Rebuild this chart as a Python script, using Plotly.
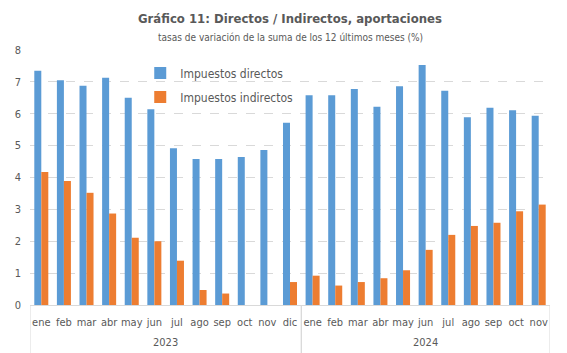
import plotly.graph_objects as go

years = ["2023"] * 12 + ["2024"] * 11
months = ["ene", "feb", "mar", "abr", "may", "jun", "jul", "ago", "sep", "oct", "nov", "dic",
          "ene", "feb", "mar", "abr", "may", "jun", "jul", "ago", "sep", "oct", "nov"]
directos = [7.35, 7.05, 6.88, 7.13, 6.5, 6.14, 4.92, 4.58, 4.58, 4.64, 4.86, 5.72,
            6.58, 6.58, 6.78, 6.22, 6.86, 7.53, 6.72, 5.89, 6.19, 6.11, 5.94]
indirectos = [4.17, 3.89, 3.52, 2.87, 2.11, 2.0, 1.39, 0.47, 0.36, None, None, 0.72,
              0.92, 0.61, 0.72, 0.84, 1.09, 1.73, 2.2, 2.48, 2.58, 2.94, 3.15]

FONT = "Liberation Sans Narrow, DejaVu Sans Condensed, Liberation Sans, sans-serif"
GRAY = "#595959"
LINE = "#D9D9D9"

cats = [f"{y}-{m}" for y, m in zip(years, months)]

fig = go.Figure()
fig.add_trace(go.Bar(x=cats, y=directos, name="Impuestos directos",
                     marker=dict(color="#5B9BD5", line=dict(width=0)), legend="legend"))
fig.add_trace(go.Bar(x=cats, y=indirectos, name="Impuestos indirectos",
                     marker=dict(color="#ED7D31", line=dict(width=0)), legend="legend2"))

leg_common = dict(xanchor="left", yanchor="middle", bgcolor="rgba(0,0,0,0)",
                  font=dict(size=12, color=GRAY), itemwidth=30)

# year group labels and dividers derived from the data
groups = []
for i, y in enumerate(years):
    if not groups or groups[-1][0] != y:
        groups.append([y, i, i])
    else:
        groups[-1][2] = i

annotations = [
    dict(text="<b>Gráfico 11: Directos / Indirectos, aportaciones</b>", x=0.5, y=1,
         xref="paper", yref="paper", yshift=32, showarrow=False,
         xanchor="center", yanchor="middle", font=dict(size=13, color=GRAY, family=FONT)),
    dict(text="tasas de variación de la suma de los 12 últimos meses (%)", x=0.5, y=1,
         xref="paper", yref="paper", yshift=13, showarrow=False,
         xanchor="center", yanchor="middle", font=dict(size=10, color=GRAY, family=FONT)),
]
shapes = []
for y, a, b in groups:
    annotations.append(dict(text=y, x=(a + b) / 2, xref="x", y=-0.149, yref="paper",
                            showarrow=False, xanchor="center", yanchor="middle",
                            font=dict(size=11, color=GRAY, family=FONT)))
    for xv in (a - 0.5, b + 0.5):
        shapes.append(dict(type="line", x0=xv, x1=xv, xref="x", y0=0, y1=-0.2, yref="paper",
                           line=dict(color=LINE, width=1)))

fig.update_layout(
    width=567, height=353,
    margin=dict(l=30, r=17, t=50, b=48),
    paper_bgcolor="white", plot_bgcolor="white",
    barmode="group", bargap=0.38, bargroupgap=0,
    font=dict(family=FONT, color=GRAY, size=12),
    showlegend=True,
    legend=dict(x=0.212, y=0.91, **leg_common),
    legend2=dict(x=0.212, y=0.816, **leg_common),
    annotations=annotations,
    shapes=shapes,
)

fig.update_yaxes(range=[0, 8], dtick=1, showgrid=True, gridcolor=LINE,
                 griddash="dash", gridwidth=1, zeroline=False, showline=False,
                 tickfont=dict(size=11, color=GRAY), ticks="", ticklabelstandoff=8)
fig.update_xaxes(type="category", tickmode="array", tickvals=cats, ticktext=months,
                 showline=True, linecolor=LINE, linewidth=1, tickangle=0,
                 tickfont=dict(size=11, color=GRAY), ticks="", showgrid=False,
                 ticklabelstandoff=7, range=[-0.5, len(cats) - 0.5])

fig.write_html("out.html")
